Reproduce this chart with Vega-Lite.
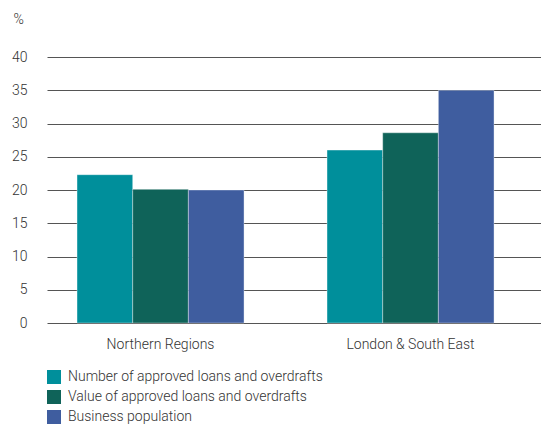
{
  "$schema": "https://vega.github.io/schema/vega-lite/v6.json",
  "width": 494,
  "height": 266,
  "autosize": "none",
  "padding": {"left": 47, "top": 57, "right": 0, "bottom": 102},
  "background": "white",
  "data": {
    "values": [
      {"region": "Northern Regions", "series": "Number of approved loans and overdrafts", "order": 1, "value": 22.3},
      {"region": "Northern Regions", "series": "Value of approved loans and overdrafts", "order": 2, "value": 20.1},
      {"region": "Northern Regions", "series": "Business population", "order": 3, "value": 20.0},
      {"region": "London & South East", "series": "Number of approved loans and overdrafts", "order": 1, "value": 26.0},
      {"region": "London & South East", "series": "Value of approved loans and overdrafts", "order": 2, "value": 28.6},
      {"region": "London & South East", "series": "Business population", "order": 3, "value": 35.0}
    ]
  },
  "config": {
    "font": "Roboto",
    "view": {"stroke": null}
  },
  "mark": {"type": "bar", "stroke": "#ffffff", "strokeOpacity": 0.45, "strokeWidth": 0.8},
  "encoding": {
    "x": {
      "field": "region",
      "type": "nominal",
      "sort": ["Northern Regions", "London & South East"],
      "scale": {"paddingInner": 0.332, "paddingOuter": 0.154, "align": 0.39},
      "axis": {
        "title": null,
        "labelAngle": 0,
        "domain": false,
        "ticks": false,
        "tickSize": 0,
        "labelPadding": 14,
        "labelFontSize": 14,
        "labelColor": "#333333",
        "labelFontWeight": 300
      }
    },
    "xOffset": {
      "field": "series",
      "type": "nominal",
      "sort": ["Number of approved loans and overdrafts", "Value of approved loans and overdrafts", "Business population"],
      "scale": {"paddingInner": 0, "paddingOuter": 0}
    },
    "y": {
      "field": "value",
      "type": "quantitative",
      "scale": {"domain": [0, 40], "nice": false},
      "axis": {
        "values": [0, 5, 10, 15, 20, 25, 30, 35, 40],
        "title": "%",
        "titleAngle": 0,
        "titleAlign": "left",
        "titleBaseline": "middle",
        "titleX": -34,
        "titleY": -38,
        "titleFontSize": 14,
        "titleFontWeight": 300,
        "titleColor": "#333333",
        "domain": false,
        "ticks": false,
        "tickSize": 0,
        "labelPadding": 20,
        "labelFontSize": 14,
        "labelColor": "#333333",
        "labelFontWeight": 300,
        "grid": true,
        "gridColor": "#555555",
        "gridWidth": 1.2,
        "gridOpacity": 1
      }
    },
    "color": {
      "field": "series",
      "type": "nominal",
      "sort": ["Number of approved loans and overdrafts", "Value of approved loans and overdrafts", "Business population"],
      "scale": {
        "domain": ["Number of approved loans and overdrafts", "Value of approved loans and overdrafts", "Business population"],
        "range": ["#008F9B", "#0F6359", "#3F5D9F"]
      },
      "legend": {
        "title": null,
        "orient": "none",
        "legendX": 0,
        "legendY": 313,
        "direction": "vertical",
        "symbolType": "square",
        "symbolSize": 196,
        "symbolStrokeWidth": 0,
        "symbolOpacity": 1,
        "labelFontSize": 14,
        "labelFontWeight": 300,
        "labelColor": "#333333",
        "labelOffset": 7,
        "rowPadding": 6,
        "labelLimit": 400
      }
    }
  }
}
